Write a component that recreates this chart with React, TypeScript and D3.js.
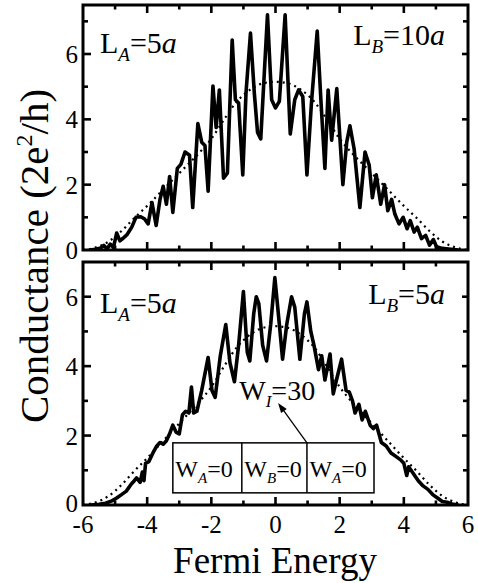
import React, { useEffect, useRef } from 'react'
import * as d3 from 'd3'

// top panel: L_A = 5a, L_B = 10a
const topEnergy = [
	-5.8, -5.6, -5.45, -5.35, -5.25, -5.15, -5.05, -4.95, -4.85, -4.75, -4.62, -4.48, -4.35, -4.2, -4.08,
	-3.97, -3.85, -3.72, -3.6, -3.5, -3.4, -3.3, -3.2, -3.06, -2.95, -2.82, -2.68, -2.58, -2.42, -2.3, -2.2,
	-2.1, -1.95, -1.85, -1.75, -1.62, -1.5, -1.35, -1.25, -1.15, -1.02, -0.92, -0.78, -0.66, -0.56, -0.46,
	-0.25, -0.12, 0.0, 0.12, 0.3, 0.46, 0.6, 0.72, 0.85, 0.98, 1.12, 1.3, 1.42, 1.54, 1.64, 1.75, 1.91,
	2.1, 2.22, 2.32, 2.45, 2.63, 2.79, 2.92, 3.02, 3.14, 3.28, 3.4, 3.5, 3.62, 3.72, 3.85, 3.98, 4.1, 4.2,
	4.32, 4.42, 4.55, 4.68, 4.8, 4.92, 5.02, 5.2, 5.4, 5.7,
]
const topConductance = [
	0, 0.02, 0.06, 0.14, 0.04, 0.18, 0.08, 0.52, 0.28, 0.36, 0.48, 0.7, 1.0, 1.02, 0.95,
	0.8, 1.45, 0.75, 1.55, 1.95, 1.4, 2.25, 1.15, 2.5, 2.62, 3.0, 2.9, 1.3, 3.87, 3.3, 3.2,
	1.8, 5.02, 3.75, 4.9, 2.2, 2.35, 6.43, 4.6, 4.5, 2.3, 4.8, 6.64, 4.8, 3.6, 3.4,
	7.2, 4.6, 4.35, 4.55, 7.2, 3.55, 4.6, 4.9, 4.7, 2.3, 4.5, 6.7, 4.5, 2.5, 4.9, 3.36, 4.94,
	2.0, 3.3, 3.8, 3.1, 1.3, 3.0, 2.6, 1.6, 2.3, 1.4, 2.0, 1.2, 1.55, 1.1, 0.8, 1.0, 0.65, 0.9,
	0.55, 0.7, 0.35, 0.45, 0.15, 0.32, 0.1, 0.05, 0.03, 0,
]

// bottom panel: L_A = 5a, L_B = 5a
const bottomEnergy = [
	-5.75, -5.5, -5.3, -5.1, -4.95, -4.8, -4.65, -4.5, -4.4, -4.33, -4.22, -4.15, -4.1, -4.05, -3.95,
	-3.82, -3.7, -3.6, -3.5, -3.4, -3.3, -3.2, -3.1, -3.0, -2.9, -2.8, -2.7, -2.62, -2.55, -2.45, -2.3,
	-2.1, -1.98, -1.88, -1.72, -1.55, -1.42, -1.28, -1.15, -1.0, -0.88, -0.8, -0.68, -0.6, -0.52, -0.4,
	-0.28, -0.15, -0.02, 0.1, 0.22, 0.35, 0.5, 0.6, 0.76, 0.9, 0.98, 1.1, 1.2, 1.34, 1.44, 1.54, 1.7,
	1.8, 1.9, 2.06, 2.2, 2.3, 2.4, 2.48, 2.6, 2.7, 2.8, 2.95, 3.05, 3.15, 3.3, 3.45, 3.6, 3.75, 3.9,
	4.0, 4.09, 4.15, 4.3, 4.45, 4.6, 4.75, 4.9, 5.05, 5.2, 5.35, 5.5, 5.7,
]
const bottomConductance = [
	0, 0.02, 0.05, 0.12, 0.2, 0.3, 0.4, 0.6, 0.7, 0.78, 0.65, 0.95, 0.7, 1.2, 1.25,
	1.5, 1.7, 1.8, 1.75, 1.85, 2.05, 2.3, 2.1, 2.05, 2.6, 2.7, 2.65, 3.4, 2.65, 2.7, 3.3,
	4.25, 3.3, 3.1, 4.3, 5.2, 4.1, 3.55, 4.6, 6.15, 4.4, 4.15, 5.5, 6.0, 5.8, 4.6,
	4.15, 5.2, 6.55, 5.4, 4.2, 5.2, 6.0, 5.7, 4.2, 5.5, 5.85, 5.0, 4.6, 3.9, 4.3, 3.6, 4.35,
	3.2, 3.6, 4.2, 3.3, 3.25, 3.0, 2.65, 2.9, 2.45, 2.7, 2.3, 2.2, 2.3, 1.8, 1.7, 1.5, 1.4, 1.3,
	1.2, 0.85, 1.1, 0.9, 0.7, 0.55, 0.45, 0.3, 0.2, 0.1, 0.08, 0.03, 0,
]

// clean wire (dotted), same in both panels
const cleanEnergy = [
	-6, -5.6, -5.2, -4.8, -4.4, -4.0, -3.6, -3.2, -2.8, -2.4, -2.0, -1.6, -1.2, -0.8, -0.4, 0,
	0.4, 0.8, 1.2, 1.6, 2.0, 2.4, 2.8, 3.2, 3.6, 4.0, 4.4, 4.8, 5.2, 5.6, 6,
]
const cleanConductance = [
	0, 0.08, 0.26, 0.58, 0.98, 1.35, 1.75, 2.15, 2.55, 2.95, 3.4, 4.0, 4.55, 4.9, 5.1, 5.15,
	5.1, 4.9, 4.55, 4.0, 3.4, 2.95, 2.55, 2.15, 1.75, 1.35, 0.98, 0.58, 0.26, 0.08, 0,
]

const xMajor = [-6, -4, -2, 0, 2, 4, 6]
const xMinor = [-5, -3, -1, 1, 3, 5]
const yMajor = [0, 2, 4, 6]
const yMinor = [1, 3, 5, 7]

// inset sketch of the wire: region edges (energy units) and labels
const insetEdges = [-3.2, -1.05, 0.98, 3.07]
const insetLabels = ['A', 'B', 'A']

const font = "'Liberation Serif','Times New Roman',serif"
const svgWidth = 478
const svgHeight = 583
const frameLeft = 83
const frameRight = 468
const panels = [
	{ top: 5, bottom: 250, max: 7.5, energy: topEnergy, g: topConductance, la: '5', lb: '10', labelY: 53, labelYR: 45 },
	{ top: 262, bottom: 505, max: 7, energy: bottomEnergy, g: bottomConductance, la: '5', lb: '5', labelY: 313, labelYR: 304 },
]

export default function App() {
	const ref = useRef<SVGSVGElement>(null)

	useEffect(() => {
		const svg = d3.select(ref.current)
		svg.selectAll('*').remove()

		const x = d3.scaleLinear().domain([-6, 6]).range([frameLeft, frameRight])

		panels.forEach((p, i) => {
			const y = d3.scaleLinear().domain([0, p.max]).range([p.bottom, p.top])
			const g = svg.append('g')

			svg
				.append('clipPath')
				.attr('id', `clip${i}`)
				.append('rect')
				.attr('x', frameLeft)
				.attr('y', p.top)
				.attr('width', frameRight - frameLeft)
				.attr('height', p.bottom - p.top)

			const plot = g.append('g').attr('clip-path', `url(#clip${i})`)

			const clean = d3
				.line<number>()
				.x((d, j) => x(cleanEnergy[j]))
				.y(d => y(d))
				.curve(d3.curveMonotoneX)
			plot
				.append('path')
				.attr('d', clean(cleanConductance))
				.attr('fill', 'none')
				.attr('stroke', '#000')
				.attr('stroke-width', 2.2)
				.attr('stroke-dasharray', '2,4')

			const dirty = d3
				.line<number>()
				.x((d, j) => x(p.energy[j]))
				.y(d => y(d))
			plot
				.append('path')
				.attr('d', dirty(p.g))
				.attr('fill', 'none')
				.attr('stroke', '#000')
				.attr('stroke-width', 3.6)
				.attr('stroke-linejoin', 'round')

			// ticks, pointing inward on all four sides
			const tick = (x1: number, y1: number, x2: number, y2: number) =>
				g
					.append('line')
					.attr('x1', x1)
					.attr('y1', y1)
					.attr('x2', x2)
					.attr('y2', y2)
					.attr('stroke', '#000')
					.attr('stroke-width', 2.6)
			xMajor.slice(1, -1).forEach(v => {
				tick(x(v), p.bottom, x(v), p.bottom - 8)
				tick(x(v), p.top, x(v), p.top + 8)
			})
			xMinor.forEach(v => {
				tick(x(v), p.bottom, x(v), p.bottom - 4.5)
				tick(x(v), p.top, x(v), p.top + 4.5)
			})
			yMajor.filter(v => v > 0 && v < p.max).forEach(v => {
				tick(frameLeft, y(v), frameLeft + 8, y(v))
				tick(frameRight, y(v), frameRight - 6, y(v))
			})
			yMinor.filter(v => v < p.max).forEach(v => {
				tick(frameLeft, y(v), frameLeft + 5, y(v))
				tick(frameRight, y(v), frameRight - 5, y(v))
			})

			g.append('rect')
				.attr('x', frameLeft)
				.attr('y', p.top)
				.attr('width', frameRight - frameLeft)
				.attr('height', p.bottom - p.top)
				.attr('fill', 'none')
				.attr('stroke', '#000')
				.attr('stroke-width', 3)

			g.selectAll('.ylab')
				.data(yMajor)
				.enter()
				.append('text')
				.attr('x', 78)
				.attr('y', d => y(d))
				.attr('dy', d => (i === 1 && d === 0 ? '0.28em' : '0.36em'))
				.attr('text-anchor', 'end')
				.attr('font-size', 25)
				.text(d => d)

			// L_A / L_B labels
			const la = g.append('text').attr('x', 100).attr('y', p.labelY).attr('font-size', 30)
			la.append('tspan').text('L')
			la.append('tspan').attr('font-style', 'italic').attr('font-size', 19).attr('dy', 8).text('A')
			la.append('tspan').attr('dy', -8).text(`=${p.la}`)
			la.append('tspan').attr('font-style', 'italic').text('a')

			const lb = g
				.append('text')
				.attr('x', 445)
				.attr('y', p.labelYR)
				.attr('font-size', 30)
				.attr('text-anchor', 'end')
			lb.append('tspan').text('L')
			lb.append('tspan').attr('font-style', 'italic').attr('font-size', 19).attr('dy', 8).text('B')
			lb.append('tspan').attr('dy', -8).text(`=${p.lb}`)
			lb.append('tspan').attr('font-style', 'italic').text('a')

			if (i === 1) {
				g.selectAll('.xlab')
					.data(xMajor)
					.enter()
					.append('text')
					.attr('x', d => x(d))
					.attr('y', 533)
					.attr('text-anchor', 'middle')
					.attr('font-size', 25)
					.text(d => d)

				// inset: the three regions of the wire
				const boxTop = y(1.79)
				const boxBottom = y(0.35)
				g.append('rect')
					.attr('x', x(insetEdges[0]))
					.attr('y', boxTop)
					.attr('width', x(insetEdges[3]) - x(insetEdges[0]))
					.attr('height', boxBottom - boxTop)
					.attr('fill', '#fff')
					.attr('stroke', '#000')
					.attr('stroke-width', 1.5)
				insetEdges.slice(1, 3).forEach(e =>
					g
						.append('line')
						.attr('x1', x(e))
						.attr('x2', x(e))
						.attr('y1', boxTop)
						.attr('y2', boxBottom)
						.attr('stroke', '#000')
						.attr('stroke-width', 1.5)
				)
				insetLabels.forEach((l, k) => {
					const t = g
						.append('text')
						.attr('x', x(insetEdges[k]) + 2.5)
						.attr('y', 477)
						.attr('font-size', 24)
					t.append('tspan').text('W')
					t.append('tspan').attr('font-style', 'italic').attr('font-size', 15).attr('dy', 6).text(l)
					t.append('tspan').attr('dy', -6).text('=0')
				})

				// W_I = 30 label and arrow
				const wi = g.append('text').attr('x', x(-1.13)).attr('y', 400).attr('font-size', 28)
				wi.append('tspan').text('W')
				wi.append('tspan').attr('font-style', 'italic').attr('font-size', 17).attr('dy', 7).text('I')
				wi.append('tspan').attr('dy', -7).text('=30')

				const ax1 = x(insetEdges[2])
				const ay1 = boxTop
				const ax2 = x(0.08)
				const ay2 = y(2.94)
				g.append('line')
					.attr('x1', ax1)
					.attr('y1', ay1)
					.attr('x2', ax2 + 4)
					.attr('y2', ay2 + 5.5)
					.attr('stroke', '#000')
					.attr('stroke-width', 1.3)
				const ang = Math.atan2(ay2 - ay1, ax2 - ax1)
				const len = 10
				const wing = 3.5
				const bx = ax2 - len * Math.cos(ang)
				const by = ay2 - len * Math.sin(ang)
				g.append('path')
					.attr(
						'd',
						`M${ax2},${ay2}L${bx - wing * Math.sin(ang)},${by + wing * Math.cos(ang)}L${bx + wing * Math.sin(ang)},${by - wing * Math.cos(ang)}Z`
					)
					.attr('fill', '#000')
			}
		})

		svg.append('text')
			.attr('x', 275)
			.attr('y', 573)
			.attr('text-anchor', 'middle')
			.attr('font-size', 37)
			.text('Fermi Energy')

		const yl = svg
			.append('text')
			.attr('transform', 'translate(48,256) rotate(-90)')
			.attr('text-anchor', 'middle')
			.attr('font-size', 41)
		yl.append('tspan').text('Conductance (2e')
		yl.append('tspan').attr('font-size', 24).attr('dy', -16).text('2')
		yl.append('tspan').attr('dy', 16).text('/h)')
	}, [])

	return (
		<svg
			ref={ref}
			width={svgWidth}
			height={svgHeight}
			fontFamily={font}
			style={{ position: 'absolute', left: 0, top: 0, background: '#fff' }}
		/>
	)
}
